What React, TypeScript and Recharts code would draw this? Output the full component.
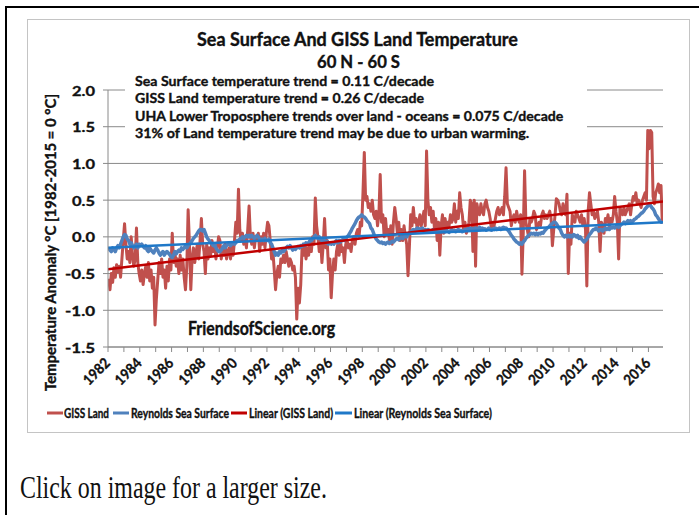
import React, { useLayoutEffect, useRef, useState } from 'react';
import { LineChart, Line, XAxis, YAxis, CartesianGrid } from 'recharts';

const START_YEAR = 1982;
const yearLabels = ['1982','1984','1986','1988','1990','1992','1994','1996','1998','2000','2002','2004','2006','2008','2010','2012','2014','2016'];
const yTicks = [-1.5, -1.0, -0.5, 0.0, 0.5, 1.0, 1.5, 2.0];

// GISS land monthly anomaly, Jan 1982 .. Nov 2016
const gissLand = [
  -0.57, -0.72, -0.5, -0.62, -0.42, -0.55, -0.38, -0.48, -0.4, -0.55, -0.3, -0.05, // 1982
  0.18, -0.1, -0.3, -0.2, -0.35, 0.0, -0.25, -0.4, -0.3, 0.12, -0.35, -0.5, // 1983
  -0.6, -0.45, -0.65, -0.5, -0.4, -0.55, -0.35, -0.6, -0.45, -0.7, -0.55, -1.2, // 1984
  -0.85, -0.6, -0.35, -0.5, -0.3, -0.55, -0.45, -0.7, -0.4, -0.6, -0.3, -0.45, // 1985
  0.05, -0.35, -0.2, -0.4, -0.3, -0.5, -0.25, -0.45, -0.3, -0.55, -0.72, -0.4, // 1986
  0.37, -0.1, -0.72, -0.3, -0.15, -0.35, -0.2, -0.1, -0.3, -0.05, 0.25, -0.1, // 1987
  -0.2, -0.5, -0.1, -0.3, -0.15, -0.25, -0.05, -0.2, -0.1, -0.3, -0.15, 0.0, // 1988
  -0.05, -0.3, -0.15, -0.25, -0.1, -0.3, -0.2, -0.15, -0.3, -0.1, -0.25, -0.05, // 1989
  0.2, 0.05, 0.65, 0.1, -0.05, 0.05, -0.1, 0.0, -0.15, 0.1, 0.42, 0.0, // 1990
  -0.1, 0.05, -0.15, 0.0, -0.05, 0.05, -0.2, 0.0, -0.1, 0.05, -0.15, 0.05, // 1991
  0.2, 0.15, -0.05, -0.3, -0.2, -0.45, -0.72, -0.5, -0.4, -0.55, -0.3, -0.35, // 1992
  -0.25, -0.35, -0.2, -0.3, -0.4, -0.3, -0.35, -0.45, -0.4, -0.55, -1.12, -0.7, // 1993
  -0.9, -0.65, -0.15, -0.25, -0.1, -0.3, -0.15, -0.25, -0.05, -0.2, 0.0, -0.1, // 1994
  0.53, 0.15, 0.0, -0.2, -0.05, -0.35, -0.1, 0.25, -0.15, -0.05, -0.45, -0.3, // 1995
  -0.83, -0.5, -0.3, -0.45, -0.2, -0.1, -0.25, -0.05, -0.2, -0.15, -0.35, -0.1, // 1996
  -0.05, -0.15, -0.1, -0.2, -0.05, 0.0, -0.1, 0.05, 0.1, 0.0, 0.2, 0.15, // 1997
  0.6, 1.15, 0.5, 0.55, 0.4, 0.45, 0.35, 0.5, 0.3, 0.25, 0.35, 0.15, // 1998
  0.3, 0.85, 0.2, 0.3, 0.0, 0.25, 0.05, 0.1, -0.05, 0.15, -0.1, 0.2, // 1999
  0.4, 0.25, 0.05, 0.2, -0.05, 0.1, -0.05, 0.15, 0.0, -0.1, -0.53, -0.15, // 2000
  0.3, 0.15, 0.4, 0.2, 0.25, 0.1, 0.2, 0.3, 0.15, 0.25, 0.35, 0.15, // 2001
  1.17, 0.5, 0.3, 0.4, 0.2, 0.35, 0.1, 0.25, -0.05, 0.2, -0.25, 0.15, // 2002
  0.3, 0.05, 0.25, 0.1, 0.2, 0.15, 0.3, 0.2, 0.25, 0.45, 0.2, 0.35, // 2003
  0.25, 0.6, 0.4, 0.3, 0.1, 0.2, 0.05, 0.1, 0.2, 0.5, 0.45, -0.2, // 2004
  0.5, -0.4, 0.45, 0.35, 0.3, 0.45, 0.35, 0.3, 0.45, 0.5, 0.4, 0.35, // 2005
  0.25, 0.1, 0.2, 0.15, 0.25, 0.35, 0.4, 0.3, 0.35, 0.4, 0.3, 0.55, // 2006
  0.94, 0.45, 0.4, 0.35, 0.15, 0.25, 0.3, 0.2, 0.35, 0.25, 0.2, 0.3, // 2007
  -0.51, 0.05, 0.9, 0.2, 0.1, 0.0, 0.25, 0.2, 0.25, 0.35, 0.3, 0.1, // 2008
  0.15, 0.2, 0.15, 0.3, 0.35, 0.25, 0.3, 0.25, 0.3, 0.35, 0.25, -0.12, // 2009
  0.1, 0.3, 0.52, 0.5, 0.45, 0.35, 0.3, 0.45, 0.35, 0.3, 0.58, -0.5, // 2010
  0.05, -0.1, 0.3, 0.25, 0.2, 0.35, 0.3, 0.25, 0.2, 0.3, 0.15, 0.25, // 2011
  0.1, -0.67, 0.35, 0.6, 0.45, 0.3, 0.35, 0.25, 0.3, 0.35, 0.2, -0.2, // 2012
  0.2, 0.15, 0.05, 0.25, 0.2, 0.3, 0.15, 0.25, 0.2, 0.3, 0.55, 0.35, // 2013
  0.2, -0.3, 0.4, 0.35, 0.3, 0.4, 0.3, 0.35, 0.4, 0.45, 0.3, 0.45, // 2014
  0.55, 0.5, 0.6, 0.45, 0.5, 0.45, 0.4, 0.5, 0.55, 0.6, 0.5, 1.45, // 2015
  1.2, 1.45, 1.42, 0.55, 0.45, 0.6, 0.65, 0.72, 0.6, 0.7, 0.18, // 2016
];

// Reynolds sea surface monthly anomaly, Jan 1982 .. Nov 2016
const reynoldsSea = [
  -0.15, -0.18, -0.2, -0.15, -0.17, -0.2, -0.15, -0.12, -0.15, -0.1, -0.05, 0.0, // 1982
  0.03, 0.02, -0.03, -0.05, -0.1, -0.08, -0.12, -0.15, -0.12, -0.1, -0.15, -0.1, // 1983
  -0.12, -0.1, -0.13, -0.15, -0.12, -0.18, -0.2, -0.15, -0.18, -0.2, -0.22, -0.18, // 1984
  -0.15, -0.18, -0.22, -0.25, -0.22, -0.2, -0.25, -0.22, -0.2, -0.22, -0.24, -0.27, // 1985
  -0.28, -0.25, -0.2, -0.23, -0.2, -0.18, -0.2, -0.15, -0.17, -0.15, -0.12, -0.15, // 1986
  -0.12, -0.1, -0.08, -0.05, -0.02, 0.0, 0.02, 0.05, 0.08, 0.1, 0.1, 0.08, // 1987
  0.1, 0.05, 0.0, -0.03, -0.05, -0.08, -0.1, -0.12, -0.1, -0.15, -0.18, -0.2, // 1988
  -0.2, -0.18, -0.15, -0.12, -0.15, -0.12, -0.1, -0.08, -0.12, -0.1, -0.08, -0.1, // 1989
  -0.08, -0.05, -0.05, -0.03, -0.02, 0.0, -0.02, 0.0, 0.02, 0.0, 0.02, 0.0, // 1990
  0.02, 0.0, -0.02, 0.0, 0.02, 0.0, -0.03, -0.05, -0.03, -0.05, -0.02, -0.05, // 1991
  -0.05, -0.03, -0.08, -0.1, -0.15, -0.2, -0.25, -0.22, -0.25, -0.2, -0.22, -0.18, // 1992
  -0.2, -0.18, -0.15, -0.13, -0.15, -0.12, -0.15, -0.18, -0.15, -0.17, -0.15, -0.13, // 1993
  -0.15, -0.12, -0.13, -0.1, -0.12, -0.08, -0.1, -0.08, -0.05, -0.05, -0.03, 0.0, // 1994
  0.02, 0.0, -0.02, 0.0, -0.03, -0.05, -0.02, -0.05, -0.08, -0.06, -0.1, -0.08, // 1995
  -0.1, -0.08, -0.1, -0.07, -0.05, -0.08, -0.05, -0.07, -0.05, -0.03, -0.05, -0.02, // 1996
  0.0, 0.02, 0.05, 0.08, 0.12, 0.15, 0.18, 0.22, 0.25, 0.27, 0.28, 0.3, // 1997
  0.28, 0.27, 0.25, 0.22, 0.2, 0.18, 0.12, 0.1, 0.05, 0.0, -0.03, -0.05, // 1998
  -0.07, -0.08, -0.07, -0.09, -0.08, -0.1, -0.08, -0.07, -0.09, -0.08, -0.06, -0.07, // 1999
  -0.05, -0.03, -0.02, -0.04, -0.02, 0.0, -0.02, 0.0, 0.02, 0.0, 0.03, 0.05, // 2000
  0.07, 0.08, 0.1, 0.09, 0.1, 0.12, 0.1, 0.11, 0.1, 0.12, 0.09, 0.1, // 2001
  0.08, 0.1, 0.09, 0.07, 0.08, 0.1, 0.08, 0.09, 0.07, 0.08, 0.1, 0.08, // 2002
  0.1, 0.08, 0.07, 0.09, 0.08, 0.06, 0.08, 0.1, 0.08, 0.09, 0.07, 0.09, // 2003
  0.1, 0.08, 0.09, 0.07, 0.08, 0.1, 0.09, 0.11, 0.1, 0.12, 0.1, 0.11, // 2004
  0.1, 0.12, 0.1, 0.11, 0.13, 0.1, 0.12, 0.1, 0.11, 0.09, 0.1, 0.12, // 2005
  0.1, 0.09, 0.11, 0.1, 0.12, 0.1, 0.11, 0.12, 0.1, 0.12, 0.13, 0.12, // 2006
  0.12, 0.1, 0.08, 0.05, 0.02, 0.0, -0.03, -0.05, -0.07, -0.08, -0.1, -0.08, // 2007
  -0.1, -0.07, -0.05, -0.02, 0.0, 0.02, 0.03, 0.05, 0.04, 0.05, 0.03, 0.05, // 2008
  0.03, 0.05, 0.04, 0.06, 0.05, 0.08, 0.1, 0.12, 0.13, 0.15, 0.17, 0.18, // 2009
  0.2, 0.2, 0.18, 0.15, 0.12, 0.1, 0.05, 0.02, 0.0, 0.02, 0.0, 0.02, // 2010
  0.0, 0.02, 0.0, 0.03, 0.02, 0.0, 0.02, -0.02, 0.0, -0.03, -0.05, -0.07, // 2011
  -0.05, -0.03, 0.0, 0.03, 0.05, 0.08, 0.1, 0.1, 0.12, 0.1, 0.08, 0.1, // 2012
  0.1, 0.08, 0.1, 0.12, 0.1, 0.12, 0.1, 0.13, 0.12, 0.13, 0.12, 0.14, // 2013
  0.15, 0.13, 0.15, 0.17, 0.18, 0.2, 0.18, 0.2, 0.22, 0.2, 0.22, 0.2, // 2014
  0.22, 0.24, 0.25, 0.27, 0.28, 0.3, 0.32, 0.33, 0.35, 0.38, 0.4, 0.42, // 2015
  0.45, 0.43, 0.4, 0.38, 0.35, 0.3, 0.28, 0.25, 0.22, 0.2, 0.2, // 2016
];

// Linear trend end values (start of axis, end of axis)
const gissTrendEnds = [-0.44, 0.48];
const seaTrendEnds = [-0.15, 0.2];

const legendItems = [
  { label: 'GISS Land', color: '#C0504D' },
  { label: 'Reynolds Sea Surface', color: '#4F81BD' },
  { label: 'Linear (GISS Land)', color: '#C00000' },
  { label: 'Linear (Reynolds Sea Surface)', color: '#1F78C8' },
];

const noteLines = [
  'Sea Surface temperature trend = 0.11 C/decade',
  'GISS Land temperature trend = 0.26 C/decade',
  'UHA Lower Troposphere trends over land - oceans = 0.075 C/decade',
  '31% of Land temperature trend may be due to urban warming.',
];

const N = gissLand.length;
const data = gissLand.map((v, i) => ({ m: i + 0.5, giss: v, sea: reynoldsSea[i] }));
const gissTrendData = [{ m: 0, t: gissTrendEnds[0] }, { m: N, t: gissTrendEnds[1] }];
const seaTrendData = [{ m: 0, t: seaTrendEnds[0] }, { m: N, t: seaTrendEnds[1] }];
const xTicks = Array.from({ length: Math.floor((N - 1) / 12) + 1 }, (_, k) => k * 12);

const FONT = 'Lato, "Open Sans", sans-serif';
const GRID = '#8a8a8a';
const INK = '#111';

// Text squeezed horizontally to a given width (the reference is a horizontally compressed picture)
function FitText(p: { x: number; y: number; w: number; size: number; children: string; family?: string; weight?: number; sw?: number; rotate?: number }) {
  const ref = useRef<SVGTextElement>(null);
  const [k, setK] = useState(0.75);
  useLayoutEffect(() => {
    const measure = () => {
      const el = ref.current;
      if (!el) return;
      const n = el.getComputedTextLength();
      if (n > 0) setK(p.w / n);
    };
    measure();
    const fonts: any = (document as any).fonts;
    if (fonts && fonts.ready) fonts.ready.then(measure);
  }, [p.w, p.children, p.size]);
  return (
    <g transform={`translate(${p.x},${p.y}) rotate(${p.rotate ?? 0}) scale(${k},1)`}>
      <text
        ref={ref}
        x={0}
        y={0}
        fontSize={p.size}
        fontWeight={p.weight ?? 700}
        fill={INK}
        stroke={INK}
        strokeWidth={p.sw ?? 0.35}
        fontFamily={p.family ?? FONT}
      >
        {p.children}
      </text>
    </g>
  );
}

const XTick = (props: any) => {
  const { x, y, payload } = props;
  const label = String(START_YEAR + Math.round(payload.value / 12));
  if (!yearLabels.includes(label)) return <g />;
  const L = 31;
  const ex = x + 3;
  const ey = y + 10;
  const sx = ex - L * 0.7071;
  const sy = ey + L * 0.7071;
  return <FitText x={sx} y={sy} w={L} size={14.5} rotate={-45}>{label}</FitText>;
};

const YTick = (props: any) => {
  const { x, y, payload } = props;
  const label = Number(payload.value).toFixed(1);
  const w = label.startsWith('-') ? 30 : 23;
  const right = x - 6;
  return <FitText x={right - w} y={y + 5.5} w={w} size={14}>{label}</FitText>;
};

export default function App() {
  const noteWidths = [299, 289, 428, 394];
  const legendLayout = [
    { x0: 47, x1: 63, tx: 64, tw: 45 },
    { x0: 113, x1: 129, tx: 131, tw: 98 },
    { x0: 231, x1: 247, tx: 249, tw: 84 },
    { x0: 335, x1: 352, tx: 354, tw: 138 },
  ];
  return (
    <div style={{ position: 'absolute', left: 0, top: 0, width: 699, height: 515, overflow: 'hidden', background: '#fff' }}>
      <div style={{ position: 'absolute', left: 5, top: 6, width: 760, height: 600, border: '2px solid #000' }} />
      <div style={{ position: 'absolute', left: 27, top: 19, width: 661, height: 412, border: '1px solid #c4c4c4' }} />
      <div style={{ position: 'absolute', left: 0, top: 0 }}>
        <LineChart width={699} height={515} data={data} margin={{ top: 90, right: 36, left: 0, bottom: 108 }}>
          <CartesianGrid horizontal vertical={false} stroke={GRID} strokeWidth={1} />
          <XAxis
            type="number"
            dataKey="m"
            domain={[0, N]}
            ticks={xTicks}
            interval={0}
            height={60}
            tickSize={5}
            axisLine={{ stroke: GRID }}
            tickLine={{ stroke: GRID }}
            tick={<XTick />}
            allowDataOverflow
          />
          <YAxis
            type="number"
            domain={[-1.5, 2]}
            ticks={yTicks}
            interval={0}
            width={108}
            tickSize={5}
            axisLine={{ stroke: GRID }}
            tickLine={{ stroke: GRID }}
            tick={<YTick />}
            allowDataOverflow
          />
          <Line type="linear" dataKey="giss" stroke="#C0504D" strokeWidth={3} dot={false} isAnimationActive={false} strokeLinejoin="round" />
          <Line type="linear" dataKey="sea" stroke="#4F81BD" strokeWidth={3.5} dot={false} isAnimationActive={false} strokeLinejoin="round" />
          <Line type="linear" data={gissTrendData} dataKey="t" stroke="#C00000" strokeWidth={2.5} dot={false} isAnimationActive={false} />
          <Line type="linear" data={seaTrendData} dataKey="t" stroke="#1F78C8" strokeWidth={2.5} dot={false} isAnimationActive={false} />
        </LineChart>
      </div>
      <svg width={699} height={515} style={{ position: 'absolute', left: 0, top: 0, pointerEvents: 'none' }}>
        <FitText x={197} y={46} w={321} size={19.5} sw={0.4}>Sea Surface And GISS Land Temperature</FitText>
        <FitText x={317} y={68} w={83} size={18} sw={0.4}>60 N - 60 S</FitText>
        <rect x={125} y={71} width={462} height={71} fill="#fff" />
        {noteLines.map((s, i) => (
          <FitText key={i} x={135} y={85.5 + i * 17.5} w={noteWidths[i]} size={13.5}>{s}</FitText>
        ))}
        <FitText x={188} y={335} w={147} size={18} sw={0.4}>FriendsofScience.org</FitText>
        <FitText x={56} y={391} w={297} size={14.5} rotate={-90}>Temperature Anomaly  °C [1982-2015 = 0 °C]</FitText>
        {legendItems.map((it, i) => (
          <g key={it.label}>
            <line x1={legendLayout[i].x0} x2={legendLayout[i].x1} y1={413} y2={413} stroke={it.color} strokeWidth={3} />
            <FitText x={legendLayout[i].tx} y={417.5} w={legendLayout[i].tw} size={13.5}>{it.label}</FitText>
          </g>
        ))}
        <FitText x={20} y={498} w={307} size={32} weight={400} sw={0} family={'"Liberation Serif", "Times New Roman", serif'}>Click on image for a larger size.</FitText>
      </svg>
    </div>
  );
}
